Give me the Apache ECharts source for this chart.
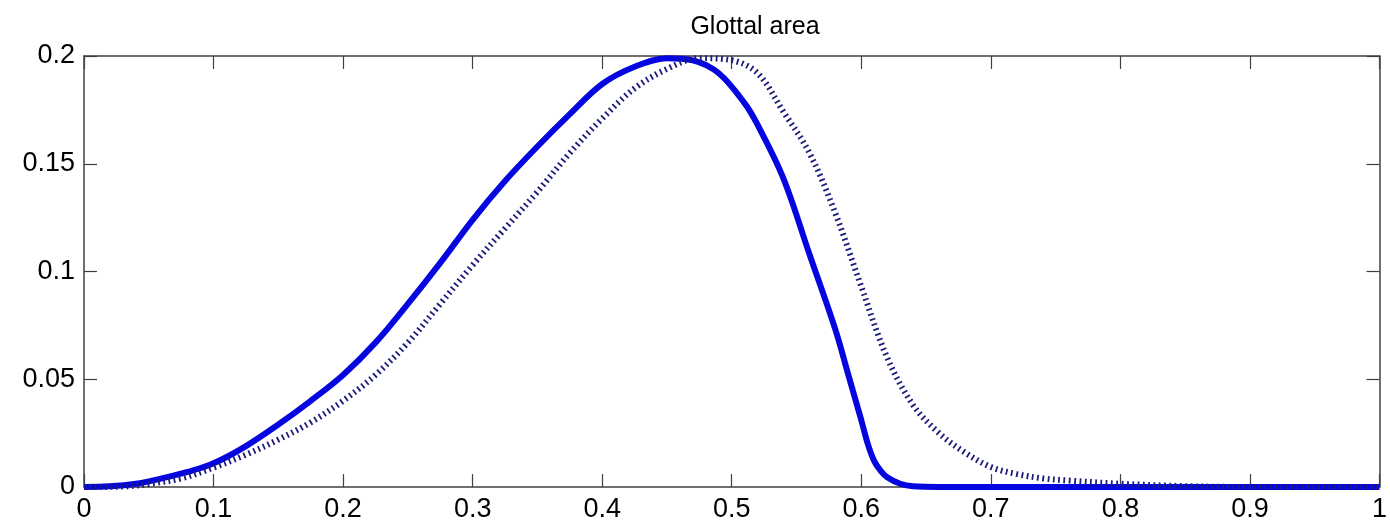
<!DOCTYPE html>
<html>
<head>
<meta charset="utf-8">
<title>Glottal area</title>
<script src="https://cdn.jsdelivr.net/npm/echarts@6/dist/echarts.min.js"></script>
<style>
  html, body { margin: 0; padding: 0; background: #fff; }
  #chart { width: 1390px; height: 529px; }
</style>
</head>
<body>
<div id="chart"></div>
<script>
// x ticks / y ticks
const xTicks = [0, 0.1, 0.2, 0.3, 0.4, 0.5, 0.6, 0.7, 0.8, 0.9, 1];
const yTicks = [0, 0.05, 0.1, 0.15, 0.2];

// solid curve
const solidX = [0, 0.02, 0.04, 0.06, 0.08, 0.10, 0.125, 0.15, 0.175, 0.20, 0.225, 0.25, 0.275, 0.30, 0.325, 0.35, 0.375, 0.40, 0.425, 0.45, 0.47, 0.49, 0.51, 0.52, 0.54, 0.56, 0.58, 0.59, 0.60, 0.605, 0.61, 0.615, 0.62, 0.63, 0.64, 0.66, 1];
const solidY = [0, 0.0003, 0.0015, 0.004, 0.007, 0.011, 0.019, 0.029, 0.040, 0.052, 0.067, 0.085, 0.104, 0.124, 0.142, 0.158, 0.173, 0.187, 0.195, 0.199, 0.198, 0.192, 0.178, 0.168, 0.143, 0.108, 0.073, 0.052, 0.031, 0.020, 0.012, 0.0075, 0.0045, 0.0015, 0.0003, 0, 0];

// dotted curve
const dotX = [0, 0.03, 0.05, 0.075, 0.10, 0.125, 0.15, 0.175, 0.20, 0.225, 0.25, 0.275, 0.30, 0.325, 0.35, 0.375, 0.40, 0.425, 0.45, 0.475, 0.50, 0.52, 0.54, 0.56, 0.58, 0.60, 0.62, 0.64, 0.66, 0.68, 0.70, 0.72, 0.74, 0.76, 0.80, 0.85, 0.90, 1];
const dotY = [0, 0.0002, 0.0015, 0.004, 0.009, 0.015, 0.022, 0.030, 0.040, 0.052, 0.067, 0.085, 0.103, 0.120, 0.137, 0.155, 0.171, 0.185, 0.194, 0.199, 0.198, 0.192, 0.174, 0.155, 0.127, 0.093, 0.060, 0.038, 0.025, 0.016, 0.0093, 0.006, 0.004, 0.003, 0.0015, 0.0004, 0, 0];

const chart = echarts.init(document.getElementById('chart'));

const axisCol = '#404040';
const font = '"Liberation Sans", Arial, sans-serif';

function xAxisDef(pos, showLabel) {
  return {
    type: 'value', position: pos, min: 0, max: 1, interval: 0.1,
    axisLine: { show: true, onZero: false, lineStyle: { color: axisCol, width: 1.5 } },
    axisTick: { show: true, inside: true, length: 13, lineStyle: { color: axisCol, width: 1.2 } },
    axisLabel: { show: showLabel, color: '#000', fontSize: 27, fontFamily: font, margin: 9 },
    splitLine: { show: false }
  };
}
function yAxisDef(pos, showLabel) {
  return {
    type: 'value', position: pos, min: 0, max: 0.2, interval: 0.05,
    axisLine: { show: true, onZero: false, lineStyle: { color: axisCol, width: 1.5 } },
    axisTick: { show: true, inside: true, length: 13, lineStyle: { color: axisCol, width: 1.2 } },
    axisLabel: { show: showLabel, color: '#000', fontSize: 27, fontFamily: font, margin: 9 },
    splitLine: { show: false }
  };
}

chart.setOption({
  backgroundColor: '#fff',
  animation: false,
  title: {
    text: 'Glottal area', left: 750, top: 10, textAlign: 'center',
    textStyle: { color: '#000', fontSize: 25, fontWeight: 'normal', fontFamily: font }
  },
  grid: { left: 84, right: 7, top: 56, bottom: 42 },
  xAxis: [xAxisDef('bottom', true), xAxisDef('top', false)],
  yAxis: [yAxisDef('left', true), yAxisDef('right', false)],
  series: [
    {
      type: 'line', data: solidX.map((x, i) => [x, solidY[i]]),
      showSymbol: false, smooth: 0.35,
      lineStyle: { color: '#0505e0', width: 6 }
    },
    {
      type: 'line', data: dotX.map((x, i) => [x, dotY[i]]),
      showSymbol: false, smooth: 0.35,
      lineStyle: { color: '#1c1c7e', width: 6, type: [1.8, 3.5], cap: 'butt' }
    }
  ]
});
window.onresize = () => chart.resize();
</script>
</body>
</html>
